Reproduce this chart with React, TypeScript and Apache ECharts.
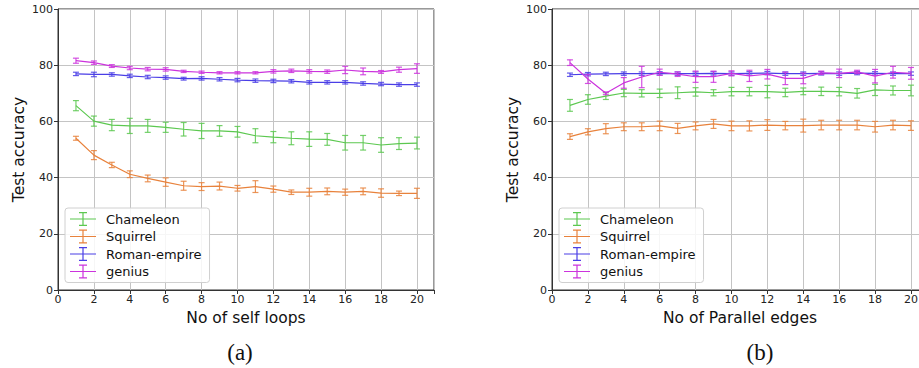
import React, { useEffect, useRef } from "react";
import * as echarts from "echarts";

const xs = [1, 2, 3, 4, 5, 6, 7, 8, 9, 10, 11, 12, 13, 14, 15, 16, 17, 18, 19, 20];
const seriesNames = ["Chameleon", "Squirrel", "Roman-empire", "genius"];
const seriesColors = ["#5cc850", "#e8823c", "#4a3ee6", "#cc33dd"];
const xTickLabels = ["0", "2", "4", "6", "8", "10", "12", "14", "16", "18", "20"];
const yTickLabels = ["0", "20", "40", "60", "80", "100"];

// (a) self loops
const chamLoops = [65.6, 60.1, 58.7, 58.4, 58.4, 57.9, 57.2, 56.6, 56.6, 56.3, 54.9, 54.4, 54.0, 53.7, 53.6, 52.4, 52.4, 51.6, 52.1, 52.3];
const chamLoopsErr = [1.8, 1.8, 2.0, 2.7, 2.3, 1.8, 2.4, 2.7, 1.9, 1.9, 2.5, 2.0, 2.3, 2.6, 2.1, 2.6, 2.6, 2.6, 2.1, 2.1];
const squLoops = [54.0, 48.0, 44.5, 41.2, 39.7, 38.4, 37.1, 36.8, 37.0, 36.2, 36.8, 35.9, 34.8, 34.8, 35.1, 34.8, 35.1, 34.5, 34.4, 34.4];
const squLoopsErr = [0.7, 1.6, 0.95, 1.2, 1.2, 1.5, 1.6, 1.4, 1.4, 1.0, 2.1, 1.1, 0.8, 1.4, 1.2, 1.1, 1.2, 1.5, 0.8, 1.8];
const romLoops = [76.9, 76.7, 76.7, 76.2, 75.8, 75.6, 75.2, 75.3, 75.0, 74.7, 74.5, 74.4, 74.3, 73.9, 73.9, 73.9, 73.5, 73.3, 73.1, 73.1];
const romLoopsErr = [0.6, 0.8, 0.6, 0.6, 0.6, 0.6, 0.5, 0.6, 0.6, 0.6, 0.6, 0.6, 0.6, 0.6, 0.6, 0.6, 0.6, 0.6, 0.6, 0.6];
const genLoops = [81.6, 80.9, 79.7, 79.0, 78.6, 78.5, 77.8, 77.5, 77.3, 77.3, 77.3, 77.8, 78.0, 77.8, 77.7, 78.3, 77.8, 77.6, 78.4, 78.8];
const genLoopsErr = [0.9, 0.6, 0.5, 0.6, 0.6, 0.6, 0.4, 0.4, 0.4, 0.4, 0.4, 0.6, 0.6, 0.6, 0.6, 1.3, 1.2, 0.5, 0.9, 1.7];

// (b) parallel edges
const chamPar = [65.7, 67.8, 69.0, 70.1, 70.0, 70.0, 70.2, 70.5, 70.2, 70.6, 70.6, 70.6, 70.3, 70.7, 70.7, 70.6, 70.0, 71.2, 71.0, 71.0];
const chamParErr = [2.1, 1.7, 1.2, 1.3, 1.3, 1.5, 2.1, 1.5, 1.1, 1.5, 1.5, 2.2, 1.5, 1.2, 1.5, 1.5, 1.7, 2.0, 1.6, 1.9];
const squPar = [54.6, 56.3, 57.4, 58.1, 58.1, 58.4, 57.5, 58.4, 59.1, 58.4, 58.4, 58.7, 58.5, 58.5, 58.7, 58.7, 58.7, 58.1, 58.7, 58.5];
const squParErr = [1.0, 1.1, 1.8, 1.4, 1.4, 1.7, 1.8, 1.4, 1.6, 1.7, 1.8, 1.9, 1.5, 2.3, 1.7, 1.7, 1.7, 1.9, 1.7, 1.7];
const romPar = [76.6, 76.8, 76.9, 77.0, 77.0, 77.1, 77.0, 77.0, 77.1, 77.0, 77.1, 77.2, 77.0, 77.0, 77.1, 77.0, 77.2, 77.1, 77.0, 77.0];
const romParErr = [0.6, 0.6, 0.6, 0.6, 0.6, 0.6, 0.6, 0.6, 0.6, 0.6, 0.6, 0.6, 0.6, 0.6, 0.6, 0.6, 0.6, 0.6, 0.6, 0.6];
const genPar = [80.9, 75.1, 70.0, 73.7, 75.8, 77.5, 76.8, 75.9, 75.9, 77.1, 76.2, 76.8, 75.3, 75.3, 77.3, 77.1, 77.6, 76.1, 77.5, 77.1];
const genParErr = [1.0, 1.6, 0.5, 1.9, 3.8, 1.1, 0.8, 2.0, 2.0, 0.9, 2.0, 1.7, 2.2, 1.9, 0.6, 1.5, 0.6, 2.4, 2.1, 2.1];

const FONT = "DejaVu Sans";
const legendIcon =
  "path://M0,6.4 h26 v1.2 h-26 Z M12.4,0 h1.2 v14 h-1.2 Z M9,0 h8 v1.2 h-8 Z M9,12.8 h8 v1.2 h-8 Z";

function buildSeries(gridIdx: number, vals: number[][], errs: number[][]) {
  const out: any[] = [];
  vals.forEach((v, i) => {
    const color = seriesColors[i];
    out.push({
      type: "line",
      name: seriesNames[i],
      xAxisIndex: gridIdx,
      yAxisIndex: gridIdx,
      data: xs.map((x, k) => [x, v[k]]),
      showSymbol: false,
      symbol: "none",
      lineStyle: { color, width: 1.2 },
      itemStyle: { color },
      z: 3 + i,
    });
    out.push({
      type: "custom",
      xAxisIndex: gridIdx,
      yAxisIndex: gridIdx,
      data: xs.map((x, k) => [x, v[k], errs[i][k]]),
      encode: { x: 0, y: 1 },
      z: 3 + i,
      renderItem: (params: any, api: any) => {
        const x = api.value(0);
        const y = api.value(1);
        const e = api.value(2);
        const lo = api.coord([x, y - e]);
        const hi = api.coord([x, y + e]);
        const cap = 3;
        const style = { stroke: color, lineWidth: 1.2, opacity: 0.85 };
        return {
          type: "group",
          children: [
            { type: "line", shape: { x1: lo[0], y1: lo[1], x2: hi[0], y2: hi[1] }, style },
            { type: "line", shape: { x1: lo[0] - cap, y1: lo[1], x2: lo[0] + cap, y2: lo[1] }, style },
            { type: "line", shape: { x1: hi[0] - cap, y1: hi[1], x2: hi[0] + cap, y2: hi[1] }, style },
          ],
        };
      },
    });
  });
  return out;
}

function xAxisFor(gridIndex: number, name: string) {
  return {
    gridIndex,
    type: "value",
    min: 0,
    max: 20.95,
    interval: 2,
    name,
    nameLocation: "middle",
    nameGap: 18,
    nameTextStyle: { fontSize: 15.5, color: "#111", fontFamily: FONT },
    axisLine: { show: true, onZero: false, lineStyle: { color: "#333", width: 1 } },
    axisTick: { show: true, length: 4, lineStyle: { color: "#333" } },
    axisLabel: {
      fontSize: 11,
      color: "#222",
      fontFamily: FONT,
      margin: 4,
      formatter: (v: number) => {
        const s = String(Math.round(v));
        return Math.abs(v - Math.round(v)) < 1e-6 && xTickLabels.includes(s) ? s : "";
      },
    },
    splitLine: { show: true, lineStyle: { color: "#c4c4c4", width: 1 } },
  };
}

function yAxisFor(gridIndex: number) {
  return {
    gridIndex,
    type: "value",
    min: 0,
    max: 100,
    interval: 20,
    name: "Test accuracy",
    nameLocation: "middle",
    nameGap: 31,
    nameTextStyle: { fontSize: 15.5, color: "#111", fontFamily: FONT },
    axisLine: { show: true, lineStyle: { color: "#333", width: 1 } },
    axisTick: { show: true, length: 4, lineStyle: { color: "#333" } },
    axisLabel: {
      fontSize: 11,
      color: "#222",
      fontFamily: FONT,
      margin: 5,
      formatter: (v: number) => (yTickLabels.includes(String(v)) ? String(v) : ""),
    },
    splitLine: { show: true, lineStyle: { color: "#c4c4c4", width: 1 } },
  };
}

function legendFor(left: number) {
  return {
    left,
    top: 208,
    orient: "vertical",
    data: seriesNames,
    icon: legendIcon,
    itemWidth: 26,
    itemHeight: 14,
    itemGap: 3.5,
    padding: [4, 8, 4, 5],
    backgroundColor: "rgba(255,255,255,0.85)",
    borderColor: "#d0d0d0",
    borderWidth: 1,
    borderRadius: 3,
    textStyle: { fontSize: 13, color: "#111", fontFamily: FONT, padding: [0, 0, 0, 5] },
  };
}

export default function App() {
  const ref = useRef<HTMLDivElement>(null);
  useEffect(() => {
    if (!ref.current) return;
    const chart = echarts.init(ref.current, null, { renderer: "svg" });
    const option: any = {
      animation: false,
      backgroundColor: "#fff",
      grid: [
        { left: 58, top: 9, width: 376, height: 281, show: true, borderColor: "#333", borderWidth: 1, backgroundColor: "transparent" },
        { left: 552, top: 9, width: 376, height: 281, show: true, borderColor: "#333", borderWidth: 1, backgroundColor: "transparent" },
      ],
      xAxis: [xAxisFor(0, "No of self loops"), xAxisFor(1, "No of Parallel edges")],
      yAxis: [yAxisFor(0), yAxisFor(1)],
      legend: [legendFor(65), legendFor(559)],
      series: [
        ...buildSeries(0, [chamLoops, squLoops, romLoops, genLoops], [chamLoopsErr, squLoopsErr, romLoopsErr, genLoopsErr]),
        ...buildSeries(1, [chamPar, squPar, romPar, genPar], [chamParErr, squParErr, romParErr, genParErr]),
      ],
      graphic: [
        {
          type: "text",
          x: 240,
          y: 352,
          style: {
            text: "(a)",
            fontSize: 23,
            fontFamily: "Liberation Serif",
            fill: "#111",
            textAlign: "center",
            textVerticalAlign: "middle",
            align: "center",
            verticalAlign: "middle",
          },
        },
        {
          type: "text",
          x: 760,
          y: 352,
          style: {
            text: "(b)",
            fontSize: 23,
            fontFamily: "Liberation Serif",
            fill: "#111",
            textAlign: "center",
            textVerticalAlign: "middle",
            align: "center",
            verticalAlign: "middle",
          },
        },
      ],
    };
    chart.setOption(option);
    return () => chart.dispose();
  }, []);
  return (
    <div style={{ position: "absolute", left: 0, top: 0, width: 919, height: 368, overflow: "hidden" }}>
      <div ref={ref} style={{ position: "absolute", left: 0, top: 0, width: 934, height: 368 }} />
    </div>
  );
}
